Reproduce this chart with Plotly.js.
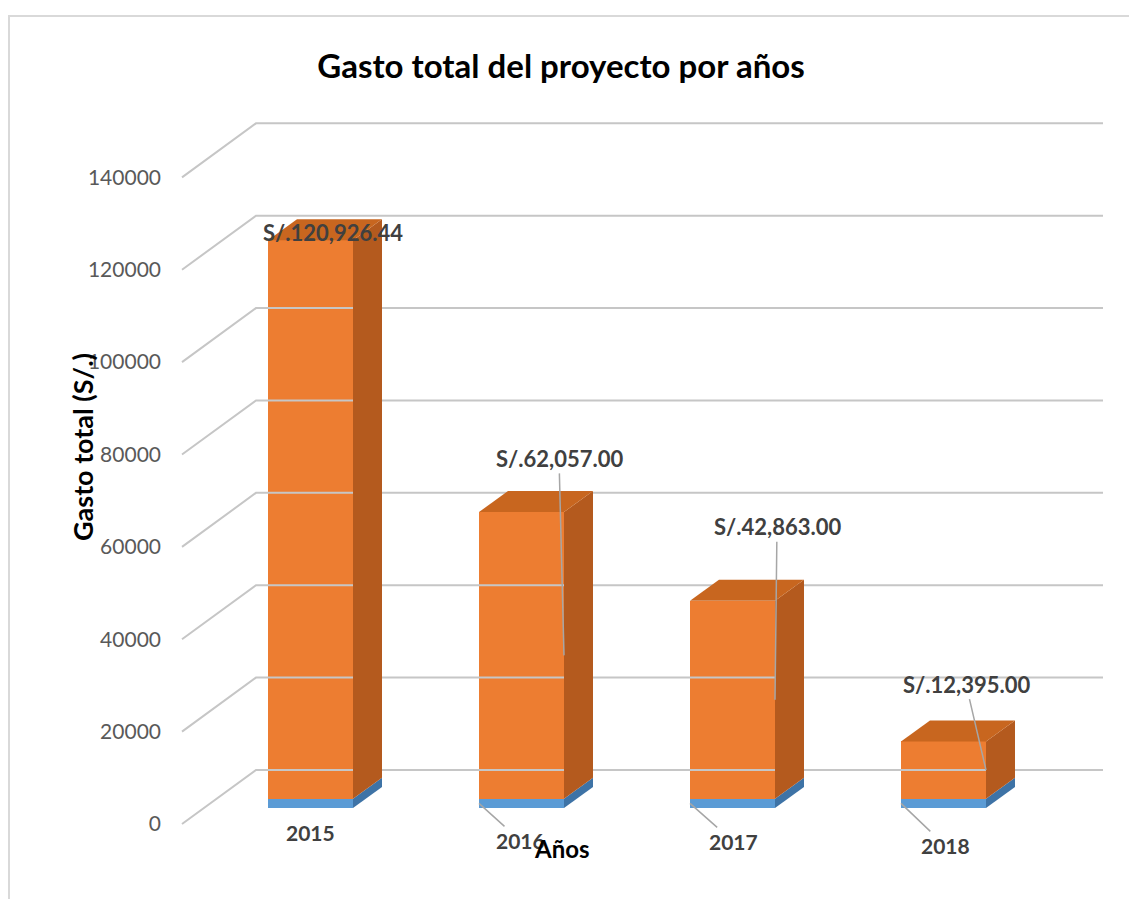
<!DOCTYPE html>
<html>
<head>
<meta charset="utf-8">
<script src="https://cdn.plot.ly/plotly-3.0.1.min.js"></script>
<style>
  body { margin: 0; background: #fff; }
  #chart { width: 1129px; height: 899px; }
  #frame { position: absolute; left: 8px; top: 15px; width: 1125px; height: 890px;
           border-top: 2px solid #d9d9d9; border-left: 2px solid #d9d9d9; pointer-events: none; }
</style>
</head>
<body>
<div id="chart"></div>
<div id="frame"></div>
<script>
// datos
var years = [2015, 2016, 2017, 2018];            // serie azul (el año se graficó como valor)
var gasto = [120926.44, 62057.00, 42863.00, 12395.00];
var gastoText = ['S/.120,926.44', 'S/.62,057.00', 'S/.42,863.00', 'S/.12,395.00'];
var yearText = ['2015', '2016', '2017', '2018'];
var yTicks = [0, 20000, 40000, 60000, 80000, 100000, 120000, 140000];

// geometria del falso 3D (en pixeles)
var L = 175, R = 1119, T = 100, B = 870;
var PX_CAT = 211, CAT0 = 310.5;     // centro de la cara frontal de la 1a barra
var VPP = 216.5;                    // valor por pixel
var BASE_BAR = 808, BASE_FRONT = 824, BASE_BACK = 770;
var barW = 85 / PX_CAT;
var depthX = 29 / PX_CAT, depthY = 21 * VPP;

function px2x(p) { return (p - CAT0) / PX_CAT; }

var xs = years.map(function (d, i) { return i; });
var traces = [];

// rejilla (pared del fondo + diagonales)
var gx = [], gy = [];
yTicks.forEach(function (t) {
  gx.push(px2x(182), px2x(256), px2x(1103), null);
  gy.push(t + (BASE_BAR - BASE_FRONT) * VPP, t + (BASE_BAR - BASE_BACK) * VPP,
          t + (BASE_BAR - BASE_BACK) * VPP, null);
});
traces.push({x: gx, y: gy, mode: 'lines', line: {color: '#c6c6c6', width: 2},
             hoverinfo: 'skip', showlegend: false});

// caras frontales
traces.push({type: 'bar', x: xs, y: years, width: barW, name: 'Año',
             marker: {color: '#5B9BD5', line: {width: 0}}, showlegend: false});
traces.push({type: 'bar', x: xs, y: gasto, width: barW, name: 'Gasto',
             marker: {color: '#ED7D31', line: {width: 0}}, showlegend: false});

function face(xp, yp, col) {
  traces.push({x: xp, y: yp, mode: 'lines', fill: 'toself', fillcolor: col,
               line: {width: 0, color: col}, hoverinfo: 'skip', showlegend: false});
}

xs.forEach(function (xi, i) {
  var r = xi + barW / 2, l = xi - barW / 2;
  var b1 = years[i], top = years[i] + gasto[i];
  // lado azul
  face([r, r + depthX, r + depthX, r, r], [0, depthY, b1 + depthY, b1, 0], '#3E73A6');
  // lado naranja
  face([r, r + depthX, r + depthX, r, r], [b1, b1 + depthY, top + depthY, top, b1], '#B45A1E');
  // tapa
  face([l, l + depthX, r + depthX, r, l], [top, top + depthY, top + depthY, top, top], '#C8661F');
});

// etiquetas de datos
var gastoOff = [[-20, -287], [-5, -197], [2, -173], [-20, -86]];
var yearOff = [[42, 29], [41, 37], [43, 38], [44, 42]];
var annotations = [];
xs.forEach(function (xi, i) {
  annotations.push({x: xi + barW / 2, y: years[i] + gasto[i] / 2, text: gastoText[i],
    showarrow: true, arrowhead: 0, arrowwidth: 1.5, standoff: 0,
    arrowcolor: i === 0 ? 'rgba(0,0,0,0)' : '#a6a6a6',
    ax: gastoOff[i][0], ay: gastoOff[i][1],
    font: {family: 'Lato, sans-serif', size: 22, color: '#404040', weight: 'bold'}});
  annotations.push({x: xi - barW / 2, y: years[i] / 2, text: yearText[i],
    showarrow: true, arrowhead: 0, arrowwidth: 1.5, standoff: 0,
    arrowcolor: i === 0 ? 'rgba(0,0,0,0)' : '#a6a6a6',
    ax: yearOff[i][0], ay: yearOff[i][1],
    font: {family: 'Lato, sans-serif', size: 21, color: '#404040', weight: 'bold'}});
});
annotations.push({xref: 'paper', yref: 'paper', x: (562 - L) / (R - L), y: (B - 848) / (B - T),
  text: 'Años', showarrow: false, xanchor: 'center', yanchor: 'middle',
  font: {family: 'Lato, sans-serif', size: 24, color: '#000', weight: 'bold'}});
annotations.push({xref: 'paper', yref: 'paper', x: (82 - L) / (R - L), y: (B - 447) / (B - T),
  text: 'Gasto total (S/.)', showarrow: false, textangle: -90, xanchor: 'center', yanchor: 'middle',
  font: {family: 'Lato, sans-serif', size: 27, color: '#000', weight: 'bold'}});

var layout = {
  width: 1129, height: 899,
  margin: {l: L, r: 1129 - R, t: T, b: 899 - B},
  paper_bgcolor: '#fff', plot_bgcolor: 'rgba(0,0,0,0)',
  barmode: 'stack', bargap: 0,
  showlegend: false,
  title: {text: 'Gasto total del proyecto por años', x: 561 / 1129, xanchor: 'center',
          y: 1 - 66 / 899, yanchor: 'middle',
          font: {family: 'Lato, sans-serif', size: 33, color: '#000', weight: 'bold'}},
  xaxis: {range: [px2x(L), px2x(R)], visible: false, fixedrange: true},
  yaxis: {range: [(BASE_BAR - B) * VPP, (BASE_BAR - T) * VPP], visible: false, fixedrange: true},
  yaxis2: {overlaying: 'y', side: 'left', anchor: 'x',
           range: [(BASE_FRONT - B) * VPP, (BASE_FRONT - T) * VPP],
           tickvals: yTicks, ticktext: yTicks.map(String), showgrid: false, zeroline: false,
           showline: false, ticks: '', ticklabelstandoff: 13,
           tickfont: {family: 'Lato, sans-serif', size: 21, color: '#595959'}},
  annotations: annotations
};

// traza invisible para que yaxis2 se dibuje
traces.push({x: [0], y: [0], yaxis: 'y2', mode: 'markers', marker: {opacity: 0},
             hoverinfo: 'skip', showlegend: false});

Plotly.newPlot('chart', traces, layout, {staticPlot: true});
</script>
</body>
</html>
